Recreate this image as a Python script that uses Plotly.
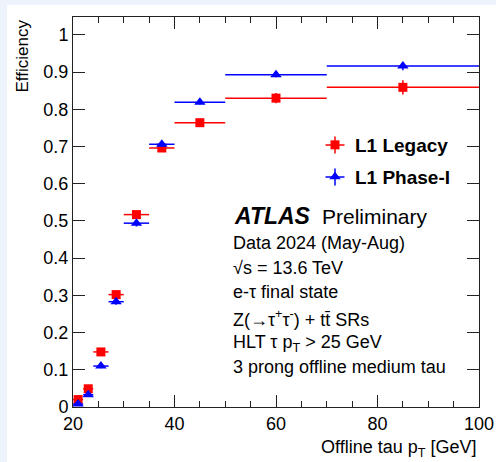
import plotly.graph_objects as go

# ---- data ----
bin_lo = [20, 22, 24, 27, 30, 35, 40, 50, 70]
bin_hi = [22, 24, 27, 30, 35, 40, 50, 70, 100]
legacy_eff = [0.020, 0.049, 0.148, 0.302, 0.517, 0.696, 0.764, 0.830, 0.859]
legacy_err = [0.004, 0.005, 0.007, 0.009, 0.010, 0.008, 0.008, 0.014, 0.019]
phase1_eff = [0.008, 0.033, 0.110, 0.283, 0.494, 0.706, 0.819, 0.893, 0.916]
phase1_err = [0.003, 0.004, 0.006, 0.008, 0.009, 0.007, 0.006, 0.007, 0.011]
series_names = ["L1 Legacy", "L1 Phase-I"]
series_colors = ["#ff0000", "#0000ff"]

x_center = [(a + b) / 2 for a, b in zip(bin_lo, bin_hi)]
x_half = [(b - a) / 2 for a, b in zip(bin_lo, bin_hi)]

FONT = "Liberation Sans, Arial, Helvetica, sans-serif"
W, H = 496, 462
L, R, T, B = 73, 17, 17, 55
PW, PH = W - L - R, H - T - B


def px(xp):
    return (xp - L) / PW


def py(yp):
    return (H - B - yp) / PH


fig = go.Figure()
fig.add_trace(go.Scatter(
    x=x_center, y=legacy_eff, mode="markers", name=series_names[0],
    marker=dict(symbol="square", size=9, color=series_colors[0]),
    error_x=dict(type="data", array=x_half, width=0, thickness=1.5, color=series_colors[0]),
    error_y=dict(type="data", array=legacy_err, width=0, thickness=1.5, color=series_colors[0]),
    legend="legend",
))
fig.add_trace(go.Scatter(
    x=x_center, y=phase1_eff, mode="markers", name=series_names[1],
    marker=dict(symbol="triangle-up", size=10, color=series_colors[1]),
    error_x=dict(type="data", array=x_half, width=0, thickness=1.5, color=series_colors[1]),
    error_y=dict(type="data", array=phase1_err, width=0, thickness=1.5, color=series_colors[1]),
    legend="legend2",
))

axis_common = dict(
    showline=True, linecolor="#222222", linewidth=1, mirror="ticks",
    ticks="inside", tickcolor="#222222", ticklen=12, tickwidth=1,
    showgrid=False, zeroline=False, automargin=False,
    tickfont=dict(family=FONT, size=18, color="black"),
)
fig.update_xaxes(range=[20, 100], dtick=20, tick0=0,
                 minor=dict(dtick=5, ticks="inside", ticklen=6, tickcolor="#222222"),
                 **axis_common)
fig.update_yaxes(range=[0, 1.048], dtick=0.1, tick0=0, **axis_common)

LEG_MX = 335  # legend marker centre (pixels)
LEG_Y = [145, 177]
leg_common = dict(font=dict(family=FONT, size=19, color="black", weight="bold"),
                  bgcolor="rgba(0,0,0,0)", xanchor="left", yanchor="middle",
                  itemclick=False, itemdoubleclick=False, borderwidth=0)

shapes = [dict(type="rect", xref="paper", yref="paper", layer="below",
               x0=px(7), x1=px(W + 10), y0=py(H + 10), y1=py(5),
               fillcolor="white", line=dict(width=0))]
# error-bar crosses for the legend symbols
for col, yy in zip(series_colors, LEG_Y):
    shapes.append(dict(type="line", xref="paper", yref="paper", layer="above",
                       x0=px(LEG_MX - 9.5), x1=px(LEG_MX + 9.5), y0=py(yy), y1=py(yy),
                       line=dict(color=col, width=1.5)))
    shapes.append(dict(type="line", xref="paper", yref="paper", layer="above",
                       x0=px(LEG_MX), x1=px(LEG_MX), y0=py(yy - 8.5), y1=py(yy + 8.5),
                       line=dict(color=col, width=1.5)))

fig.update_layout(
    width=W, height=H, showlegend=True,
    margin=dict(l=L, r=R, t=T, b=B, autoexpand=False),
    paper_bgcolor="#edf3fb", plot_bgcolor="white",
    legend=dict(x=px(LEG_MX - 20), y=py(LEG_Y[0]), **leg_common),
    legend2=dict(x=px(LEG_MX - 20), y=py(LEG_Y[1]), **leg_common),
    shapes=shapes,
)

anns = [
    dict(text="Efficiency", x=px(22), y=py(17), xanchor="center", yanchor="top",
         textangle=-90, font=dict(size=17)),
    dict(text="Offline tau p<sub>T</sub> [GeV]", x=px(478), y=py(448),
         xanchor="right", yanchor="middle", font=dict(size=18)),
    dict(text="<b><i>ATLAS</i></b>", x=px(232), y=py(216), xanchor="left",
         yanchor="middle", font=dict(size=23)),
    dict(text="Preliminary", x=px(320), y=py(216), xanchor="left",
         yanchor="middle", font=dict(size=21)),
]
lines = [
    ("Data 2024 (May-Aug)", 243),
    ("\u221As = 13.6 TeV", 268),
    ("e-\u03c4 final state", 292),
    ("Z(\u2192\u03c4<sup>+</sup>\u03c4<sup>-</sup>) + tt\u0304 SRs", 318),
    ("HLT \u03c4 p<sub>T</sub> > 25 GeV", 343),
    ("3 prong offline medium tau", 367),
]
for txt, yy in lines:
    anns.append(dict(text=txt, x=px(231), y=py(yy), xanchor="left",
                     yanchor="middle", font=dict(size=18)))
for a in anns:
    a.update(xref="paper", yref="paper", showarrow=False)
    a["font"] = dict(family=FONT, color="black", **a["font"])
fig.update_layout(annotations=anns)

fig.write_html("out.html")
